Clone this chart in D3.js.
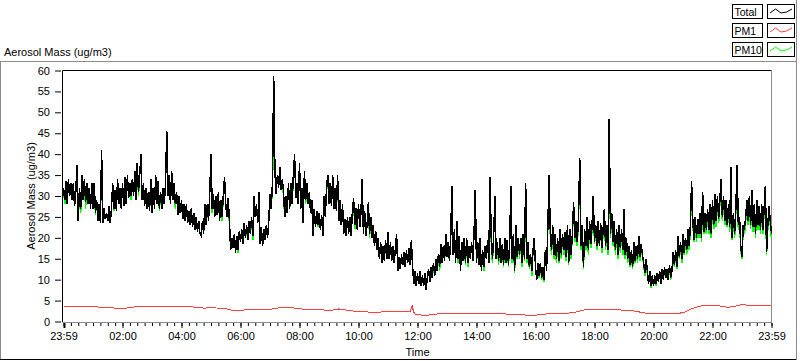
<!DOCTYPE html>
<html><head><meta charset="utf-8">
<script src="https://cdn.jsdelivr.net/npm/d3@7"></script>
<style>
body{margin:0;background:#fff;}
svg{display:block;font-family:"Liberation Sans",Arial,sans-serif;}
</style></head><body>
<svg id="c" width="800" height="361"></svg>
<script>
// ---- data ----
const sampleStepMinutes = 2.5;
const totalValues = [
32,29,33.5,28, 34,30,33,29, 33,27.5,31,37.5, 24,32,27,35, 29,34,28.5,33, 28,32,27,33, 27,33,26,29, 24,28,23.5,41,
23.5,27,24.5,26, 24,27.5,23.5,27, 33,27,31.5,26.5, 34,28,32,27, 33,27.5,34.5,28, 35,29.5,33,30, 34,30,36,29, 38,31,35,40,
29,33,27.5,32, 27,31,26.5,34, 26,32,27,35, 28,33.5,27,31, 27,32,28,33, 45.5,30,35,28, 36,29,33,28, 31,25.5,30,26,
29,24.5,28,24, 28,23.5,26.5,23, 27,22.5,26,22, 25,21.5,24,21, 20.5,24,21,28,
23,28,24,31, 40,27,30.5,25, 30,25.5,31,24, 29,25,30,34.5, 28,25,29.5,24, 17,20,17.5,21, 16.5,20.5,17,21.5, 19,22,18.5,23.5,
20,23,19.5,24, 21,25,20.5,30, 25,28,23.5,31, 18.5,22.5,18,22, 19.5,23,20,24, 30.5,27,33,58.7, 36,30.5,35,32, 37,31.5,34,31,
25,30,26,33, 27,33,28,35, 40,29.5,33,28, 38,27,32,23.5, 36,29,33,28, 31,26,29,20.5, 27,22.5,26.5,23, 26,22,25.5,20.5,
30,25,32,35, 28,33,27.5,35, 27,32,26.5,35, 24,29,23,28, 21,24.5,20.5,25,
21,25,20.5,26, 29.5,23,27,22, 28,22.5,26,34, 21,26.5,20.5,23, 28.5,21,25,20, 23,18,21.5,17, 20,15,19,14, 18,14.5,19.5,15,
21.5,15,19,14.5, 18,14,17.5,21, 12,15.5,12.5,16, 13.5,16.5,13,17, 14,17.5,13.5,19.5, 13,9,12,8.5, 11.5,9,12,8.5, 11,8.5,11.5,7.5,
10.5,12.5,9.5,13, 10.5,14,11,15, 12,16,13,18.5, 14,18,14.5,21, 15.5,19,14.5,20, 32.5,16,22,14, 24,15,20.5,12, 19,14.5,20,14,
20,14,18,15, 19,14.5,21,31.5, 14,19,13.5,20, 12,17,13,18, 15,19.5,14,34.5,
20,15,21,30, 15,19,14.5,20, 14,18.5,13.5,20, 14,19.5,13.5,19, 32.5,15,21,12, 23,15.5,20,16, 20,14,21,15, 33,15,19,13,
16,12,17,20, 13,10,14,11, 14,10.5,13,10, 17,12,22,35, 22,17,23,16, 21,15,20,14.5, 22,16,21,17, 21.5,15.5,23,14,
22,16,21,28.5, 20,24,19,25, 39,18,23,13, 22,18,25,17, 24,18.5,23,30, 19,23,18,24, 18,23.5,17.5,22, 27,18,23,17,
48.5,21,26,19, 24,17,22,16, 23,17.5,22,17, 27,16,20,15, 18,13.5,17,13,
19,14.5,18,15, 20.5,15.5,18.5,16, 14,11.5,15,12, 9,12,8.5,11, 8.5,11,9,11.5, 9.5,12,9,12.5, 10,13,10.5,12.5, 10,13.5,10.5,12,
16.5,13.5,17,13, 20.5,15.5,19,15, 21,16.5,20,17, 22,18,23,33.5, 24,19.5,25,20, 24.5,21,26,20, 31,21.5,26,22, 27,22,28,21,
29,23,30.5,24, 30,24.5,29,34, 25,30,24,29, 23,28,22.5,37, 20,26,21,27, 37.5,23,25,18, 15.5,23,22,25, 29,24,30,23,
31.5,22.5,28,21, 29,23,27.5,22, 28,22,27,32.5, 16.5,23,27.5,24, 21
];
const pm10Values = [
32,28,33.5,28, 34,30,33,29, 33,27.5,31,37.5, 24,31,26,35, 29,33,27,33, 28,32,27,33, 27,33,25.5,29, 24,28,23.5,40,
23.5,27,24.5,26, 24,27.5,23.5,27, 33,26.5,31.5,26.5, 34,28,32,27, 33,27.5,34.5,28, 35,29.5,33,29, 34,30,36,29, 38,30,35,39,
29,33,27.5,32, 27,31,26.5,33, 26,32,27,35, 28,33.5,26.5,31, 27,32,28,33, 45,30,35,28, 36,29,33,27, 31,25.5,30,26,
29,24.5,28,24, 28,23.5,26.5,23, 27,22.5,26,22, 25,21.5,24,21, 20.5,24,21,27,
23,27,24,31, 39,26,30.5,25, 30,25.5,31,24, 29,24,30,34.5, 28,25,29.5,23, 17,20,17.5,21, 16.5,20.5,16.5,21.5, 19,22,18.5,23.5,
20,22,19.5,24, 21,25,19.5,29, 25,28,23.5,31, 18.5,22.5,18,22, 19.5,23,20,24, 30.5,27,32,48.5, 36,30.5,35,32, 37,31.5,34,30,
25,30,26,33, 27,32,28,34, 40,29.5,33,28, 38,27,32,23.5, 36,28,33,28, 31,26,29,20.5, 27,22.5,26.5,22.5, 26,22,25.5,20.5,
30,25,32,34, 28,32,27.5,35, 27,32,26.5,34, 24,29,23,28, 21,24,20.5,25,
21,25,20.5,26, 29.5,22,27,22, 28,22.5,26,33, 21,26.5,20.5,23, 28.5,20,25,20, 23,18,21.5,17, 20,15,19,14, 18,14.5,19,15,
21.5,15,19,14.5, 18,14,17.5,21, 12,15.5,12.5,16, 13.5,16,13,17, 14,17.5,13.5,19.5, 13,9,12,8.5, 11.5,9,12,8.5, 11,8.5,11.5,7.5,
10.5,12.5,9.5,13, 10.5,13,11,15, 12,16,12,18, 14,18,14.5,20, 15.5,18,14.5,20, 31,16,22,14, 24,14,20.5,12, 19,14.5,20,13.5,
20,13,18,15, 19,14.5,21,30.5, 14,18,13.5,20, 12,17,12,18, 15,19.5,14,33,
19,14,21,29, 15,18,13.5,20, 14,18.5,13,19, 14,19.5,13,19, 31,14,21,11.5, 22,15,20,15, 20,13,21,14.5, 32,14,19,12.5,
16,11,17,19, 13,10,14,10.5, 14,10,13,9.5, 17,12,22,34, 21,16,22,15, 21,14,19,14, 21,15,21,16, 21.5,14.5,22,13.5,
22,15,21,27, 19,23,18,24, 38,17,22,12.5, 21,17,24,16, 24,17.5,22,29, 18.5,22,17,23, 18,22.5,16.5,21, 26,17,22,16,
46,20,25,18, 23,16,21,15, 22,16.5,21,16, 26,15,19,14, 17.5,13,16,12.5,
18,14,17,14, 20,14.5,18,15.5, 13.5,11,14.5,11.5, 9,11.5,8,11, 8.5,11,8.5,11.5, 9.5,12,9,12, 10,12.5,10.5,12.5, 10,13,10,12,
16,13,16.5,12.5, 20,15,18.5,14, 20.5,16,19.5,16, 21.5,17,22,32, 23,19,24,19, 24,20,25,19, 29.5,21,25,21, 26,21,27,20,
28,22,29,22.5, 29,23.5,28,32, 24,28.5,23,27.5, 22.5,27,21.5,35, 19.5,25,20,26, 36,22,24,17, 15,22,21,24, 28,23,29,22,
30,21.5,27,20, 28,22,26.5,21, 27,21,26,31, 16,22,26.5,23, 20
];
const pm1Minutes = [0,60,90,105,120,135,150,200,230,260,285,300,330,345,375,420,440,460,480,520,540,560,590,610,625,650,705,709,712,716,740,760,790,860,890,920,960,990,1020,1045,1060,1080,1150,1165,1185,1250,1265,1277,1295,1330,1350,1365,1382,1395,1440];
const pm1Values  = [3.5,3.5,3.4,3.2,3.1,3.3,3.6,3.6,3.7,3.5,3.2,3.3,3.1,2.6,2.8,2.9,3.3,3.4,3.0,2.9,2.6,3.0,2.5,2.5,2.1,2.3,2.3,3.8,2.3,1.6,1.5,1.8,1.9,1.9,1.9,1.6,1.5,1.9,1.9,2.3,2.8,2.9,2.7,2.4,2.0,1.9,2.3,3.0,3.7,3.8,3.4,3.6,4.1,3.8,3.9];
const xTickMinutes = [0,120,240,360,480,600,720,840,960,1080,1200,1320,1440];
const xTickLabels = ["23:59","02:00","04:00","06:00","08:00","10:00","12:00","14:00","16:00","18:00","20:00","22:00","23:59"];
const yTickValues = [0,5,10,15,20,25,30,35,40,45,50,55,60];
const seriesNames = ["Total","PM1","PM10"];
const seriesColors = ["#000000","#ff4040","#00ff00"];
const yTitle = "Aerosol Mass (ug/m3)";
const xTitle = "Time";

// ---- drawing ----
const svg = d3.select("#c");
const FONT = 11;
const x = d3.scaleLinear().domain([0,1440]).range([63.5,771.5]);
const y = d3.scaleLinear().domain([0,60]).range([321.5,70.5]);

// outer frame
svg.append("line").attr("x1",0.5).attr("x2",0.5).attr("y1",61).attr("y2",360).attr("stroke","#8c8c8c");
svg.append("line").attr("x1",0).attr("x2",797).attr("y1",61.5).attr("y2",61.5).attr("stroke","#8c8c8c");
svg.append("line").attr("x1",0).attr("x2",797).attr("y1",359.5).attr("y2",359.5).attr("stroke","#000");
svg.append("line").attr("x1",796.5).attr("x2",796.5).attr("y1",0).attr("y2",360).attr("stroke","#8c8c8c");

// top-left title
svg.append("text").attr("x",4).attr("y",56).attr("font-size",FONT).text(yTitle);

// plot frame
const L=62.5,R=771.5,T=70.5,B=322.5;
svg.append("line").attr("x1",L).attr("x2",R).attr("y1",T).attr("y2",T).attr("stroke","#000");
svg.append("line").attr("x1",L).attr("x2",L).attr("y1",T).attr("y2",B-0.5).attr("stroke","#000");
svg.append("line").attr("x1",R).attr("x2",R).attr("y1",T).attr("y2",B).attr("stroke","#8c8c8c");
svg.append("line").attr("x1",L).attr("x2",R+0.5).attr("y1",B).attr("y2",B).attr("stroke","#8c8c8c");

// y axis
const yAxis = svg.append("g").attr("transform","translate(61,0)")
  .call(d3.axisLeft(y).tickValues(yTickValues).tickSize(6).tickPadding(5).tickSizeOuter(0));
yAxis.select(".domain").remove();
yAxis.selectAll("text").attr("font-size",FONT).attr("font-family","Liberation Sans, Arial, sans-serif");

// x axis: minor then major
const minorMinutes = d3.range(0,1441,15);
const xMinor = svg.append("g").attr("transform","translate(0,323)")
  .call(d3.axisBottom(x).tickValues(minorMinutes).tickSize(3).tickFormat(""));
xMinor.select(".domain").remove();
const xMajor = svg.append("g").attr("transform","translate(0,323)")
  .call(d3.axisBottom(x).tickValues(xTickMinutes).tickSize(5).tickPadding(4)
    .tickFormat((d,i)=>xTickLabels[i]));
xMajor.select(".domain").remove();
xMajor.selectAll("text").attr("font-size",FONT).attr("font-family","Liberation Sans, Arial, sans-serif");
xMajor.selectAll("line").filter((d,i)=>i===0).attr("stroke-width",2).attr("x1",0.5).attr("x2",0.5);

// axis titles
svg.append("text").attr("x",(63+772)/2).attr("y",356).attr("text-anchor","middle").attr("font-size",FONT).text(xTitle);
svg.append("text").attr("transform","translate(35,196) rotate(-90)").attr("text-anchor","middle").attr("font-size",FONT).text(yTitle);

// series
const plot = svg.append("g");
const lineIdx = d3.line().x((d,i)=>x(i*sampleStepMinutes)).y(d=>y(d));
const lineT = d3.line().x(d=>x(d[0])).y(d=>y(d[1]));
plot.append("path").attr("d",lineIdx(pm10Values)).attr("fill","none").attr("stroke",seriesColors[2]).attr("stroke-width",1.5).attr("shape-rendering","crispEdges");
plot.append("path").attr("d",lineIdx(totalValues)).attr("fill","none").attr("stroke",seriesColors[0]).attr("stroke-width",1.5).attr("shape-rendering","crispEdges");
plot.append("path").attr("d",lineT(d3.zip(pm1Minutes,pm1Values))).attr("fill","none").attr("stroke",seriesColors[1]).attr("stroke-width",1).attr("shape-rendering","crispEdges");

// legend
const lg = svg.append("g");
seriesNames.forEach((name,k)=>{
  const gy = 4 + k*19;
  lg.append("rect").attr("x",732.5).attr("y",gy+0.5).attr("width",30).attr("height",14).attr("fill","#fff").attr("stroke","#000");
  lg.append("text").attr("x",734.5).attr("y",gy+11.5).attr("font-size",10.5).text(name);
  lg.append("rect").attr("x",767.5).attr("y",gy+0.5).attr("width",27).attr("height",14).attr("fill","#fff").attr("stroke","#000");
  const sx = d3.scaleLinear().domain([0,4]).range([770,792]);
  const sample = [[0,9],[1,5],[2,9],[3,8],[4,5]];
  lg.append("path").attr("d",d3.line().x(d=>sx(d[0])).y(d=>gy+d[1])(sample))
    .attr("fill","none").attr("stroke",seriesColors[k]).attr("stroke-width",1);
});
</script>
</body></html>
